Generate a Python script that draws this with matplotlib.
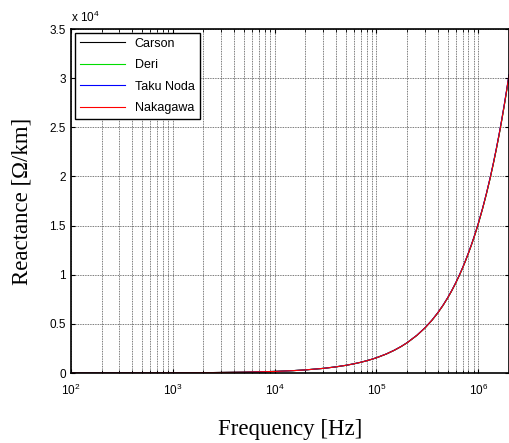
import numpy as np
import matplotlib.pyplot as plt
from matplotlib.ticker import FuncFormatter, LogLocator

# frequency points [Hz]
freq = [1e2, 2e2, 5e2, 1e3, 2e3, 5e3, 1e4, 1.5e4, 2e4, 3e4, 4e4, 5e4, 6e4, 7e4, 8e4,
        9e4, 1e5, 1.25e5, 1.5e5, 1.75e5, 2e5, 2.5e5, 3e5, 3.5e5, 4e5, 4.5e5, 5e5,
        5.5e5, 6e5, 6.5e5, 7e5, 7.5e5, 8e5, 8.5e5, 9e5, 9.5e5, 1e6, 1.1e6, 1.2e6,
        1.3e6, 1.4e6, 1.5e6, 1.6e6, 1.7e6, 1.8e6, 1.9e6, 2e6]

# reactance [Ohm/km]
carson = [1.8, 3.5, 8.7, 17, 34, 82, 160, 238, 315, 470, 625, 780, 935, 1090, 1245,
          1398, 1550, 1935, 2320, 2700, 3080, 3840, 4600, 5360, 6120, 6880, 7640,
          8400, 9160, 9920, 10680, 11440, 12200, 12950, 13700, 14450, 15200, 16710,
          18220, 19730, 21240, 22745, 24250, 25760, 27270, 28775, 30280]
deri = [1.8, 3.5, 8.7, 17, 34, 82, 160, 238, 315, 470, 624, 779, 934, 1088, 1243,
        1396, 1548, 1932, 2317, 2696, 3076, 3835, 4594, 5353, 6112, 6871, 7630,
        8389, 9148, 9906, 10665, 11424, 12183, 12931, 13680, 14429, 15178, 16686,
        18194, 19702, 21210, 22713, 24216, 25724, 27232, 28735, 30238]
noda = [1.8, 3.5, 8.7, 17, 34, 82, 161, 239, 316, 471, 627, 782, 937, 1092, 1248,
        1401, 1553, 1939, 2325, 2706, 3087, 3848, 4610, 5372, 6134, 6896, 7658,
        8420, 9182, 9944, 10706, 11468, 12230, 12983, 13735, 14488, 15240, 16755,
        18270, 19785, 21300, 22810, 24320, 25835, 27350, 28860, 30370]
nakagawa = [1.8, 3.5, 8.7, 17, 34, 82, 160, 238, 315, 470, 625, 780, 935, 1090, 1245,
            1398, 1550, 1936, 2321, 2701, 3081, 3841, 4601, 5361, 6121, 6881, 7641,
            8402, 9162, 9922, 10682, 11442, 12203, 12953, 13703, 14454, 15204, 16715,
            18225, 19736, 21246, 22752, 24257, 25768, 27278, 28784, 30290]

plt.rcParams['font.family'] = ['Liberation Sans', 'DejaVu Sans']
plt.rcParams['mathtext.default'] = 'regular'

fig = plt.figure(figsize=(5.1, 4.43), dpi=100)
ax = fig.add_axes([0.139, 0.158, 0.859, 0.7765])

ax.semilogx(freq, carson, color='k', lw=0.8, label='Carson')
ax.semilogx(freq, deri, color='#00dd00', lw=0.8, label='Deri')
ax.semilogx(freq, noda, color='b', lw=0.8, label='Taku Noda')
ax.semilogx(freq, nakagawa, color='r', lw=0.8, label='Nakagawa')

ax.set_xlim(1e2, 2e6)
ax.set_ylim(0, 3.5e4)
ax.set_yticks(np.arange(0, 3.51e4, 0.5e4))
ax.yaxis.set_major_formatter(FuncFormatter(lambda v, p: '%g' % (v / 1e4)))
ax.xaxis.set_major_locator(LogLocator(base=10, numticks=10))
ax.xaxis.set_minor_locator(LogLocator(base=10, subs=np.arange(2, 10), numticks=100))

ax.grid(True, which='major', axis='both', color='0.3', lw=0.6, ls=(0, (1, 1)))
ax.grid(True, which='minor', axis='x', color='0.3', lw=0.6, ls=(0, (1, 1)))

ax.tick_params(which='both', direction='in', top=True, right=True, labelsize=8.5)
ax.tick_params(axis='x', which='both', pad=7)
ax.tick_params(which='major', length=3)
ax.tick_params(which='minor', length=2)
for s in ax.spines.values():
    s.set_linewidth(1.2)

ax.text(0.0, 1.012, 'x 10$^{4}$', transform=ax.transAxes, fontsize=8.5,
        ha='left', va='bottom')

ax.set_xlabel('Frequency [Hz]', family='Liberation Serif', fontsize=16.5, labelpad=15)
ax.set_ylabel('Reactance [\u03a9/km]', family='Liberation Serif', fontsize=16.5, labelpad=12)

leg = ax.legend(loc='upper left', fontsize=9, handlelength=3.6, fancybox=False,
                framealpha=1, edgecolor='k', borderaxespad=0.3, labelspacing=0.75)
leg.get_frame().set_linewidth(1.0)

fig.savefig('out.png', dpi=100)
